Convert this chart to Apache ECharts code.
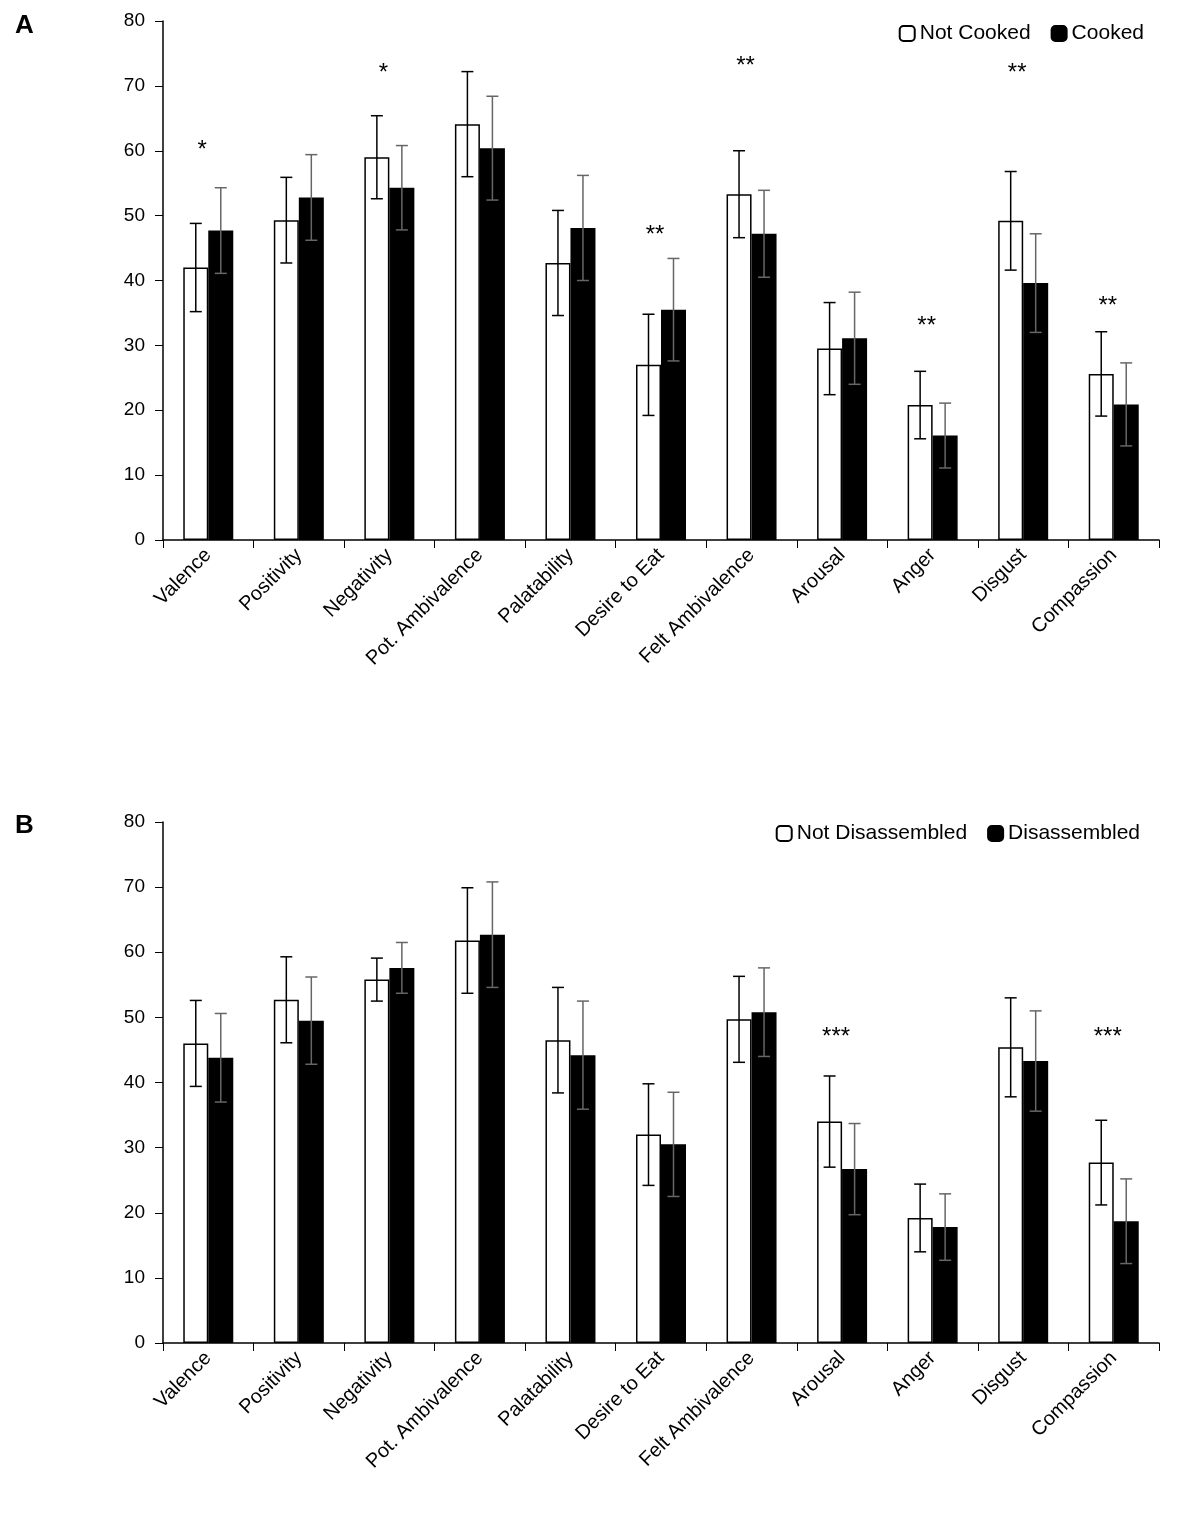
<!DOCTYPE html>
<html><head><meta charset="utf-8">
<script src="https://cdn.jsdelivr.net/npm/echarts@6/dist/echarts.min.js"></script>
<style>html,body{margin:0;background:#fff}#c{width:1181px;height:1525px}</style>
</head><body><div id="c"></div>
<script>
const categories = ["Valence","Positivity","Negativity","Pot. Ambivalence","Palatability","Desire to Eat","Felt Ambivalence","Arousal","Anger","Disgust","Compassion"];
const aNotCooked = [42,49.3,59,64.1,42.7,27,53.3,29.5,20.8,49.2,25.6];
const aNotCookedErr = [6.8,6.6,6.4,8.1,8.1,7.8,6.7,7.1,5.2,7.6,6.5];
const aCooked = [47.7,52.8,54.3,60.4,48.1,35.5,47.2,31.1,16.1,39.6,20.9];
const aCookedErr = [6.6,6.6,6.5,8.0,8.1,7.9,6.7,7.1,5.0,7.6,6.4];
const aStars = ["*","","*","","","**","**","","**","**","**"];
const aStarY = [60,null,72,null,null,47,73,null,33,72,36];
const bNotDis = [46,52.7,55.8,61.8,46.5,32,49.7,34,19.2,45.4,27.7];
const bNotDisErr = [6.6,6.6,3.3,8.1,8.1,7.8,6.6,7.0,5.2,7.6,6.5];
const bDis = [43.8,49.5,57.6,62.7,44.2,30.5,50.8,26.7,17.8,43.3,18.7];
const bDisErr = [6.8,6.7,3.9,8.1,8.3,8.0,6.8,7.0,5.1,7.7,6.5];
const bStars = ["","","","","","","","***","","","***"];
const bStarY = [null,null,null,null,null,null,null,47,null,null,47];

const chart = echarts.init(document.getElementById('c'));
const grids = [{left:163,right:22,top:21,height:519},{left:163,right:22,top:822,height:521}];
function errSeries(gi, vals, errs, off, color){
  return {type:'custom', xAxisIndex:gi, yAxisIndex:gi, z:10,
    data: vals.map((v,i)=>[i,v,errs[i]]),
    renderItem:(p,api)=>{
      const i=api.value(0), v=api.value(1), e=api.value(2);
      const t=api.coord([i,v+e]), b=api.coord([i,v-e]);
      const x=t[0]+off, w=6;
      const st={stroke:color,lineWidth:1.5};
      return {type:'group',children:[
        {type:'line',shape:{x1:x,y1:t[1],x2:x,y2:b[1]},style:st},
        {type:'line',shape:{x1:x-w,y1:t[1],x2:x+w,y2:t[1]},style:st},
        {type:'line',shape:{x1:x-w,y1:b[1],x2:x+w,y2:b[1]},style:st}]};
    }};
}
function starSeries(gi, stars, ys){
  return {type:'custom', xAxisIndex:gi, yAxisIndex:gi, z:11,
    data: stars.map((s,i)=>[i, ys[i]==null?0:ys[i], s]),
    renderItem:(p,api)=>{
      const i=api.value(0); const s=stars[i]; if(!s) return null;
      const c=api.coord([i,api.value(1)]);
      return {type:'text',style:{x:c[0]-6,y:c[1],text:s,font:'24px Liberation Sans, Arial',fill:'#000',align:'center',verticalAlign:'middle'}};
    }};
}
const xAxes = grids.map((g,i)=>({type:'category',gridIndex:i,data:categories,
  axisLine:{lineStyle:{color:'#000',width:1.5}},axisTick:{show:true,alignWithLabel:false,length:8,lineStyle:{color:'#000'}},
  axisLabel:{rotate:45,color:'#000',fontSize:20,fontFamily:'Liberation Sans, Arial',interval:0,margin:12}}));
const yAxes = grids.map((g,i)=>({type:'value',gridIndex:i,min:0,max:80,interval:10,
  axisLine:{show:true,lineStyle:{color:'#000',width:1.5}},axisTick:{show:true,length:8,lineStyle:{color:'#000'}},
  splitLine:{show:false},axisLabel:{color:'#000',fontSize:19,fontFamily:'Liberation Sans, Arial',margin:18}}));
const barW=25;
function bar(gi,name,data,fill){return {type:'bar',name,xAxisIndex:gi,yAxisIndex:gi,data,barWidth:barW,barGap:'0%',
  itemStyle:{color:fill,borderColor:'#000',borderWidth:1.5}};}
chart.setOption({
  animation:false,
  grid:grids,
  xAxis:xAxes, yAxis:yAxes,
  title:[{text:'A',left:10,top:8,textStyle:{fontSize:26,fontWeight:'bold',color:'#000',fontFamily:'Liberation Sans, Arial'}},
         {text:'B',left:10,top:808,textStyle:{fontSize:26,fontWeight:'bold',color:'#000',fontFamily:'Liberation Sans, Arial'}}],
  legend:[
    {data:['Not Cooked','Cooked'],right:32,top:18,itemWidth:15,itemHeight:15,itemGap:20,textStyle:{fontSize:21,color:'#000',fontFamily:'Liberation Sans, Arial'}},
    {data:['Not Disassembled','Disassembled'],right:36,top:818,itemWidth:15,itemHeight:15,itemGap:20,textStyle:{fontSize:21,color:'#000',fontFamily:'Liberation Sans, Arial'}}],
  series:[
    bar(0,'Not Cooked',aNotCooked,'#fff'), bar(0,'Cooked',aCooked,'#000'),
    errSeries(0,aNotCooked,aNotCookedErr,-barW/2,'#000'), errSeries(0,aCooked,aCookedErr,barW/2,'#666'),
    starSeries(0,aStars,aStarY),
    bar(1,'Not Disassembled',bNotDis,'#fff'), bar(1,'Disassembled',bDis,'#000'),
    errSeries(1,bNotDis,bNotDisErr,-barW/2,'#000'), errSeries(1,bDis,bDisErr,barW/2,'#666'),
    starSeries(1,bStars,bStarY)
  ]
});
</script></body></html>
